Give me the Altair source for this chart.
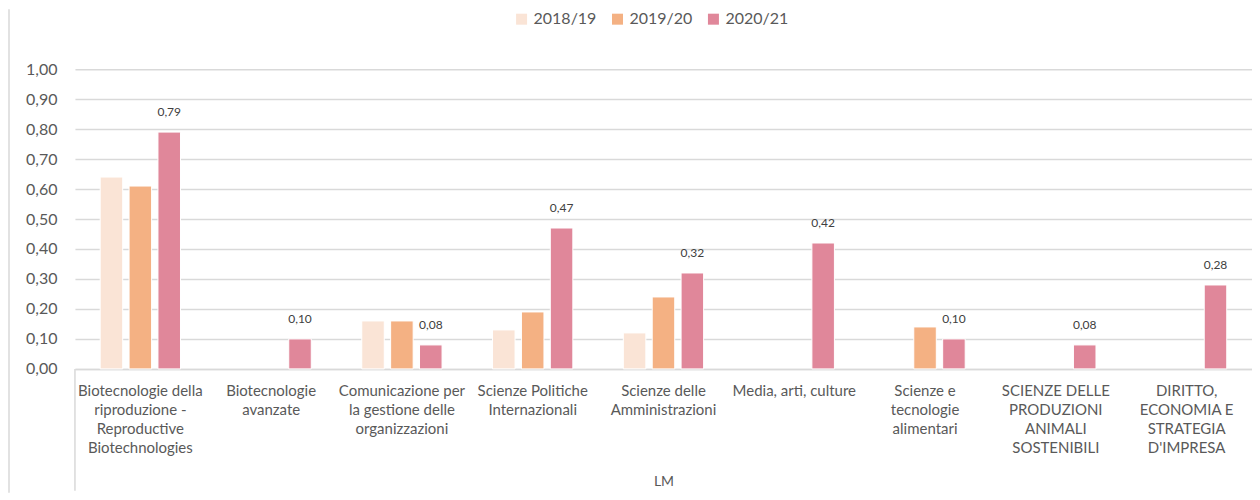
import altair as alt
import pandas as pd

categories = [
    "Biotecnologie della\nriproduzione -\nReproductive\nBiotechnologies",
    "Biotecnologie\navanzate",
    "Comunicazione per\nla gestione delle\norganizzazioni",
    "Scienze Politiche\nInternazionali",
    "Scienze delle\nAmministrazioni",
    "Media, arti, culture",
    "Scienze e\ntecnologie\nalimentari",
    "SCIENZE DELLE\nPRODUZIONI\nANIMALI\nSOSTENIBILI",
    "DIRITTO,\nECONOMIA E\nSTRATEGIA\nD'IMPRESA",
]
series = ["2018/19", "2019/20", "2020/21"]
v_2018_19 = [0.64, None, 0.16, 0.13, 0.12, None, None, None, None]
v_2019_20 = [0.61, None, 0.16, 0.19, 0.24, None, 0.14, None, None]
v_2020_21 = [0.79, 0.10, 0.08, 0.47, 0.32, 0.42, 0.10, 0.08, 0.28]
colors = ["#FAE4D6", "#F4B183", "#E0879A"]
y_ticks = [0.0, 0.1, 0.2, 0.3, 0.4, 0.5, 0.6, 0.7, 0.8, 0.9, 1.0]
axis_title = "LM"
label_series = "2020/21"

rows = []
for s, vals in zip(series, [v_2018_19, v_2019_20, v_2020_21]):
    for c, v in zip(categories, vals):
        if v is not None:
            rows.append({"categoria": c, "serie": s, "valore": v})
df = pd.DataFrame(rows)

W, H = 1178, 300
FONT = "Lato"
GREY = "#595959"
LINE = "#D9D9D9"

x_enc = alt.X(
    "categoria:N",
    sort=categories,
    title=axis_title,
    scale=alt.Scale(paddingInner=0.386, paddingOuter=0.193),
    axis=alt.Axis(
        labelExpr="split(datum.value, '\\n')",
        labelAngle=0,
        labelLimit=0,
        labelOverlap=False,
        ticks=False,
        tickSize=0,
        domainColor=LINE,
        domainWidth=1.5,
        labelFont=FONT,
        labelFontSize=15,
        labelColor=GREY,
        labelLineHeight=19,
        labelPadding=15,
        labelBaseline="top",
        titleFont=FONT,
        titleFontSize=14,
        titleFontWeight="normal",
        titleColor=GREY,
        titlePadding=19,
    ),
)
xo_enc = alt.XOffset(
    "serie:N", sort=series,
    scale=alt.Scale(domain=series, paddingInner=0.22, paddingOuter=0),
)
y_enc = alt.Y(
    "valore:Q",
    scale=alt.Scale(domain=[0, 1], nice=False),
    axis=alt.Axis(
        values=y_ticks,
        tickCount=20,
        labelOverlap=False,
        labelExpr="replace(format(datum.value, '.2f'), '.', ',')",
        title=None,
        domain=False,
        ticks=False,
        tickSize=0,
        grid=True,
        gridColor=LINE,
        gridWidth=1.5,
        labelFont=FONT,
        labelFontSize=16,
        labelColor=GREY,
        labelPadding=18,
    ),
)
color_enc = alt.Color(
    "serie:N",
    scale=alt.Scale(domain=series, range=colors),
    legend=alt.Legend(
        title=None,
        orient="none",
        legendX=439,
        legendY=-58,
        direction="horizontal",
        symbolType="square",
        symbolSize=121,
        symbolStrokeWidth=0,
        labelFont=FONT,
        labelFontSize=16,
        labelColor=GREY,
        columnPadding=13,
        labelOffset=4,
    ),
)

bars = alt.Chart(df).mark_bar(stroke="white", strokeWidth=1).encode(
    x=x_enc, xOffset=xo_enc, y=y_enc, color=color_enc
)

labels = (
    alt.Chart(df)
    .transform_filter(alt.datum.serie == label_series)
    .transform_calculate(lbl="replace(format(datum.valore, '.2f'), '.', ',')")
    .mark_text(baseline="middle", dy=-20, font=FONT, fontSize=12, color="#404040")
    .encode(x=x_enc, xOffset=xo_enc, y=y_enc, text="lbl:N")
)

one = pd.DataFrame({"k": [0]})
sep = alt.Chart(one).mark_rule(color=LINE, strokeWidth=1.5).encode(
    x=alt.value(0), y=alt.value(H), y2=alt.value(H + 122)
)
frame = alt.Chart(one).mark_rule(color=LINE, strokeWidth=1.5).encode(
    x=alt.value(-66), y=alt.value(-60), y2=alt.value(H + 124)
)

chart = (
    alt.layer(bars, labels, sep, frame)
    .properties(width=W, height=H, padding=0, background="white")
    .configure_view(stroke=None)
)

chart.save("out.html", embed_options={"renderer": "svg", "actions": False})
